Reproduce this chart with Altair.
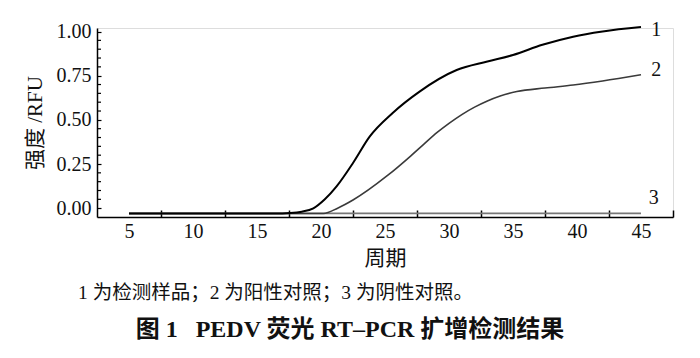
import altair as alt
import pandas as pd

# ---- data ----
cycles_1 = [5, 10, 15, 17.0, 17.6, 18.5, 19.4, 20.3, 21.2, 22.5, 23.8, 25.6, 27.7, 30.6, 33.0, 35.0, 37.3, 39.7, 42.0, 45.0]
rfu_1 = [-0.03, -0.03, -0.03, -0.03, -0.028, -0.02, -0.001, 0.05, 0.122, 0.256, 0.405, 0.539, 0.66, 0.782, 0.83, 0.867, 0.925, 0.971, 1.0, 1.025]

cycles_2 = [5, 10, 15, 20.2, 21.3, 22.5, 25.2, 27.0, 28.0, 29.1, 30.0, 31.0, 32.0, 33.0, 34.0, 35.3, 37.5, 39.7, 42.0, 45.0]
rfu_2 = [-0.03, -0.03, -0.03, -0.03, 0.0, 0.046, 0.185, 0.295, 0.36, 0.43, 0.48, 0.53, 0.572, 0.607, 0.635, 0.66, 0.68, 0.697, 0.72, 0.755]

cycles_3 = [5, 15, 25, 35, 45]
rfu_3 = [-0.03, -0.03, -0.03, -0.03, -0.03]

series_labels = ["1", "2", "3"]
label_x = [45.8, 45.8, 45.6]
label_y = [1.01, 0.78, 0.06]

x_label_values = [5, 10, 15, 20, 25, 30, 35, 40, 45]
y_label_values = [0.0, 0.25, 0.5, 0.75, 1.0]
y_minor_values = [0.05, 0.1, 0.15, 0.2, 0.3, 0.35, 0.4, 0.45, 0.55, 0.6, 0.65, 0.7,
                  0.8, 0.85, 0.9, 0.95]

y_title = "强度 /RFU"
x_title = "周期"
note_text = "1 为检测样品；2 为阳性对照；3 为阴性对照。"
caption_text = "图 1\u00a0\u00a0\u00a0PEDV 荧光 RT–PCR 扩增检测结果"

FONT = "Liberation Serif, Noto Sans CJK SC"
W, H = 576, 189

df1 = pd.DataFrame({"cycle": cycles_1, "rfu": rfu_1})
df2 = pd.DataFrame({"cycle": cycles_2, "rfu": rfu_2})
df3 = pd.DataFrame({"cycle": cycles_3, "rfu": rfu_3})
dlab = pd.DataFrame({"cycle": label_x, "rfu": label_y, "t": series_labels})
dminor = pd.DataFrame({"rfu": y_minor_values})

xscale = alt.Scale(domain=[2.5, 47.5], nice=False, zero=False)
yscale = alt.Scale(domain=[-0.05, 1.02], nice=False, zero=False)

# ticks point inward (negative size via expression); x ticks sit halfway between labels
xaxis = alt.Axis(values=x_label_values, ticks=True, tickSize={"expr": "-7"},
                 tickOffset=32, labelOffset=-32, tickColor="black", tickWidth=1.5,
                 grid=False, domainColor="black", domainWidth=1.5, labelFont=FONT,
                 labelFontSize=20, labelColor="#111", labelPadding=11, title=x_title,
                 titleFont=FONT, titleFontSize=21, titleFontWeight="normal",
                 titleColor="#111", titleY=41, titleBaseline="middle")
yaxis = alt.Axis(values=y_label_values, ticks=True, tickSize={"expr": "-4"},
                 tickColor="black", tickWidth=1.2, grid=False, domainColor="black",
                 domainWidth=1.5, format=".2f", labelFont=FONT, labelFontSize=20,
                 labelColor="#111", labelPadding=10, labelOverlap=False,
                 title=y_title, titleFont=FONT, titleFontSize=21, titleFontWeight="normal",
                 titleColor="#111", titleX=-62, titleY=H / 2, titleAngle=-90,
                 titleAlign="center", titleBaseline="middle")

base3 = alt.Chart(df3).mark_line(color="#777", strokeWidth=1.8).encode(
    x=alt.X("cycle:Q", scale=xscale, axis=xaxis),
    y=alt.Y("rfu:Q", scale=yscale, axis=yaxis),
)
line2 = alt.Chart(df2).mark_line(color="#3a3a3a", strokeWidth=1.6, interpolate="monotone").encode(
    x="cycle:Q", y="rfu:Q")
line1 = alt.Chart(df1).mark_line(color="#000", strokeWidth=2.0, interpolate="monotone").encode(
    x="cycle:Q", y="rfu:Q")

minor = alt.Chart(dminor).mark_tick(color="black", orient="horizontal", size=4,
                                    thickness=1.2, opacity=1).encode(
    y="rfu:Q", x=alt.value(2))

labels = alt.Chart(dlab).mark_text(font=FONT, fontSize=20, color="#111", align="left",
                                   baseline="middle").encode(
    x="cycle:Q", y="rfu:Q", text="t:N")

note = alt.Chart(pd.DataFrame({"t": [note_text]})).mark_text(
    font=FONT, fontSize=19.5, color="#111", align="left", baseline="middle").encode(
    x=alt.value(-19), y=alt.value(265), text="t:N")
caption = alt.Chart(pd.DataFrame({"t": [caption_text]})).mark_text(
    font=FONT, fontSize=24, fontWeight="bold", color="#111", align="center",
    baseline="middle").encode(x=alt.value(253), y=alt.value(302), text="t:N")

chart = alt.layer(base3, line2, line1, minor, labels, note, caption).properties(
    width=W, height=H,
    autosize=alt.AutoSizeParams(type="none"),
    padding={"left": 89, "top": 20, "right": 19, "bottom": 133},
).configure_view(stroke=None).configure(background="white")

chart.save("out.html", embed_options={"renderer": "svg", "actions": False})
